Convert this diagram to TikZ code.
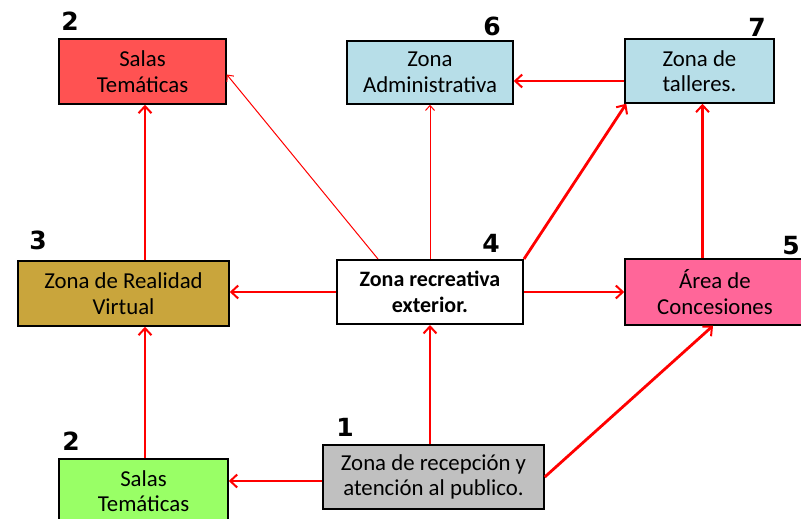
\documentclass[tikz,border=0pt]{standalone}
\usepackage{fontspec}
\setmainfont{Carlito}
\newfontfamily\numfont{DejaVu Sans}
\usetikzlibrary{arrows.meta}
\definecolor{cRed}{HTML}{FF5252}
\definecolor{cBlue}{HTML}{B7DEE8}
\definecolor{cGold}{HTML}{C9A53C}
\definecolor{cPink}{HTML}{FF6699}
\definecolor{cGreen}{HTML}{99FF66}
\definecolor{cGray}{HTML}{C0C0C0}
\definecolor{cArrow}{HTML}{FF0000}
\tikzset{
  box/.style={draw=black, line width=1.5pt, align=center, inner sep=0pt,
    font=\fontsize{22.8}{25.5}\selectfont, text=black},
  numlbl/.style={font=\numfont\bfseries\fontsize{25}{25}\selectfont, inner sep=0pt},
  arr/.style={draw=cArrow, line width=2.8pt, -{Straight Barb[length=7pt,width=13pt,line width=2pt]}},
  thinarr/.style={draw=cArrow, line width=1pt, -{Straight Barb[length=5pt,width=9pt,line width=1pt]}}
}
\begin{document}
\begin{tikzpicture}[x=1pt,y=-1pt]
\path[use as bounding box, fill=white] (0,0) rectangle (801,519);
\begin{scope}
\clip (0,0) rectangle (801,519);
\node[box, fill=cRed, minimum width=167pt, minimum height=65pt] (salaR) at (142.5,71.5) {Salas\\Temáticas};
\node[box, fill=cBlue, minimum width=166pt, minimum height=63pt] (admin) at (430,72.5) {Zona\\Administrativa};
\node[box, fill=cBlue, minimum width=149pt, minimum height=64pt] (taller) at (699.5,71) {Zona de\\talleres.};
\node[box, fill=cGold, minimum width=211pt, minimum height=65pt] (vr) at (123.5,293.5) {Zona de Realidad\\Virtual};
\node[box, fill=white, line width=2pt, minimum width=186pt, minimum height=64pt, font=\bfseries\fontsize{22}{25.5}\selectfont] (recre) at (430,292) {Zona recreativa\\exterior.};
\node[box, fill=cPink, minimum width=180pt, minimum height=66pt] (conc) at (715,292) {Área de\\Concesiones};
\node[box, fill=cGreen, minimum width=169pt, minimum height=64pt] (salaG) at (143.5,491) {Salas\\Temáticas};
\node[box, fill=cGray, minimum width=221pt, minimum height=64pt] (recep) at (433.5,477) {Zona de recepción y\\atención al publico.};

\node[numlbl] (n2a) at (70,21) {2};
\node[numlbl] (n6) at (492,26) {6};
\node[numlbl] (n7) at (757,27) {7};
\node[numlbl] (n3) at (38,240) {3};
\node[numlbl] (n4) at (491,243) {4};
\node[numlbl] (n5) at (791,246) {5};
\node[numlbl] (n2b) at (71,441) {2};
\node[numlbl] (n1) at (345,427) {1};

\draw[arr] ([xshift=21.5pt]vr.north) -- ([xshift=2.5pt]salaR.south);
\draw[arr] ([xshift=1.5pt]salaG.north) -- ([xshift=21.5pt]vr.south);
\draw[arr] ([yshift=-4pt]recep.west) -- ([yshift=-4pt]recep.west -| salaG.east);
\draw[arr] (recep.north -| recre.south) -- (recre.south);
\draw[arr] (recep.east) -- ([xshift=-2pt]conc.south);
\draw[arr] (recre.west) -- (recre.west -| vr.east);
\draw[arr] (recre.east) -- (recre.east -| conc.west);
\draw[thinarr] ([xshift=-52pt]recre.north) -- ([yshift=-3pt]salaR.east);
\draw[thinarr] (recre.north) -- (admin.south);
\draw[arr] (recre.north east) -- ([xshift=2pt]taller.south west);
\draw[arr] ([yshift=-10pt]taller.west) -- ([yshift=-10pt]taller.west -| admin.east);
\draw[arr] ([xshift=3pt]conc.north -| taller.south) -- ([xshift=3pt]taller.south);
\end{scope}
\end{tikzpicture}
\end{document}
